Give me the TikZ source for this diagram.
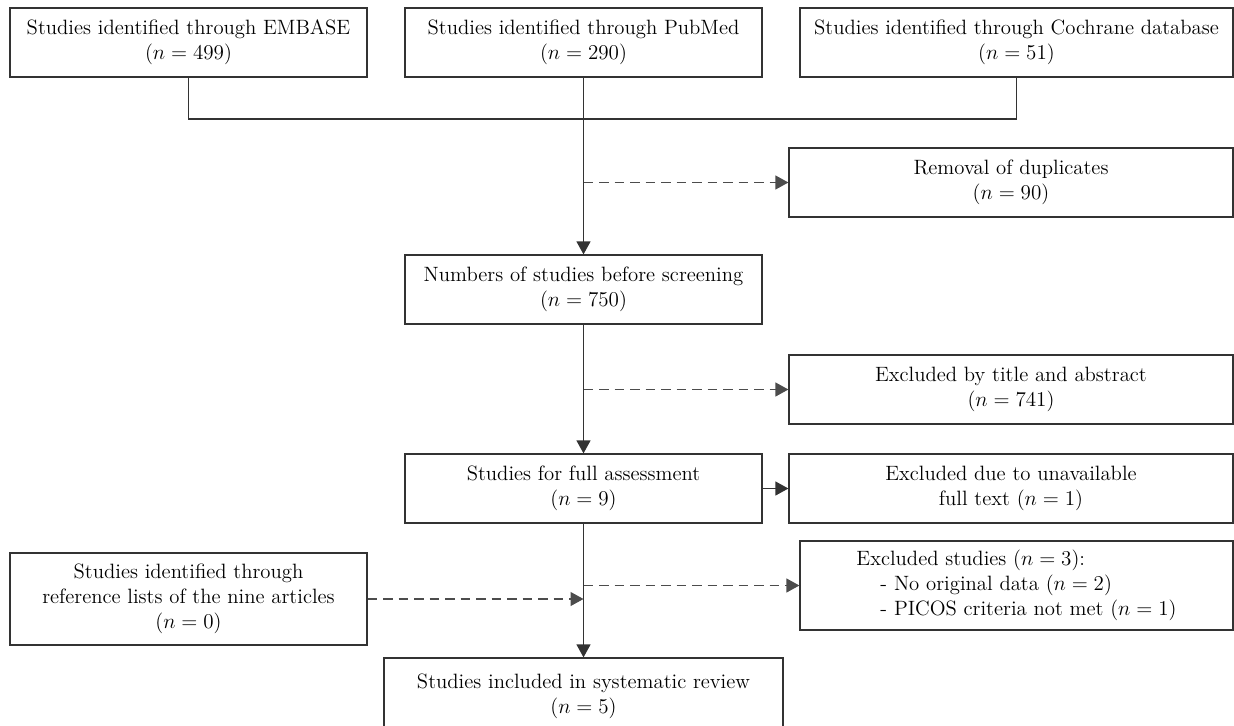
\documentclass[tikz,border=0pt]{standalone}
\usepackage{amsmath}
\usetikzlibrary{arrows.meta}

\begin{document}
\begin{tikzpicture}[
        >={Triangle[length=2.6mm, width=2.8mm]},
        box/.style={rectangle, draw=black!80, line width=0.7pt, minimum height=1.38cm, align=center, inner sep=2pt, text=black, font=\fontsize{11.8}{14.2}\selectfont},
        srcbox/.style={box, minimum width=7.14cm},
        sidebox/.style={box, minimum width=8.88cm},
        connect/.style={draw, ->, black!80, line width=0.7pt},
        dconnect/.style={draw, ->, black!70, line width=0.7pt, dash pattern=on 1.9mm off 1.2mm}
    ]
    \useasboundingbox (0,0) rectangle (24.68,-14.52);

    % ==========================================
    % 1. Database search (top row)
    % ==========================================
    \node[srcbox] (embase) at (3.77, -0.85) {Studies identified through EMBASE\\($n = 499$)};
    \node[srcbox] (pubmed) at (11.67, -0.85) {Studies identified through PubMed\\($n = 290$)};
    \node[box, minimum width=8.66cm] (cochrane) at (20.33, -0.85) {Studies identified through Cochrane database\\($n = 51$)};

    % merge line
    \coordinate (merge) at (11.67, -2.38);
    \path[draw, black!80, line width=0.7pt] (embase.south) |- (merge) -| (cochrane.south);

    % ==========================================
    % 2. Main flow (x=11.67)
    % ==========================================
    \node[srcbox] (numbers) at (11.67, -5.79) {Numbers of studies before screening\\($n = 750$)};
    \node[srcbox] (full) at (11.67, -9.77) {Studies for full assessment\\($n = 9$)};
    \node[box, minimum width=7.98cm, minimum height=1.54cm] (final) at (11.67, -13.93) {Studies included in systematic review\\($n = 5$)};

    \path[connect] (pubmed) -- (numbers);
    \path[connect] (numbers) -- (full);
    \path[connect] (full) -- (final);

    % ==========================================
    % 3. Exclusions (right column)
    % ==========================================
    \node[sidebox] (removal) at (20.22, -3.65) {Removal of duplicates\\($n = 90$)};
    \node[sidebox] (title) at (20.22, -7.79) {Excluded by title and abstract\\($n = 741$)};
    \node[sidebox] (unavail) at (20.22, -9.77) {Excluded due to unavailable\\full text ($n = 1$)};
    \node[box, minimum width=8.66cm, minimum height=1.78cm, align=left] (exstud) at (20.33, -11.71) {Excluded studies ($n = 3$):\\\hspace*{4.8mm}- No original data ($n = 2$)\\\hspace*{4.8mm}- PICOS criteria not met ($n = 1$)};

    \coordinate (d1) at (numbers.north |- removal.west);
    \coordinate (d2) at (full.north |- title.west);
    \coordinate (d3) at (full.south |- exstud.west);
    \path[dconnect] (d1) -- (removal.west);
    \path[dconnect] (d2) -- (title.west);
    \path[dconnect] (d3) -- (exstud.west);
    \path[connect] (full) -- (unavail);

    % ==========================================
    % 4. Reference lists (left)
    % ==========================================
    \node[srcbox, minimum height=1.84cm] (refl) at (3.77, -11.98) {Studies identified through\\reference lists of the nine articles\\($n = 0$)};
    \coordinate (d4) at (full.south |- refl.east);
    \path[dconnect] (refl) -- (d4);

\end{tikzpicture}
\end{document}
